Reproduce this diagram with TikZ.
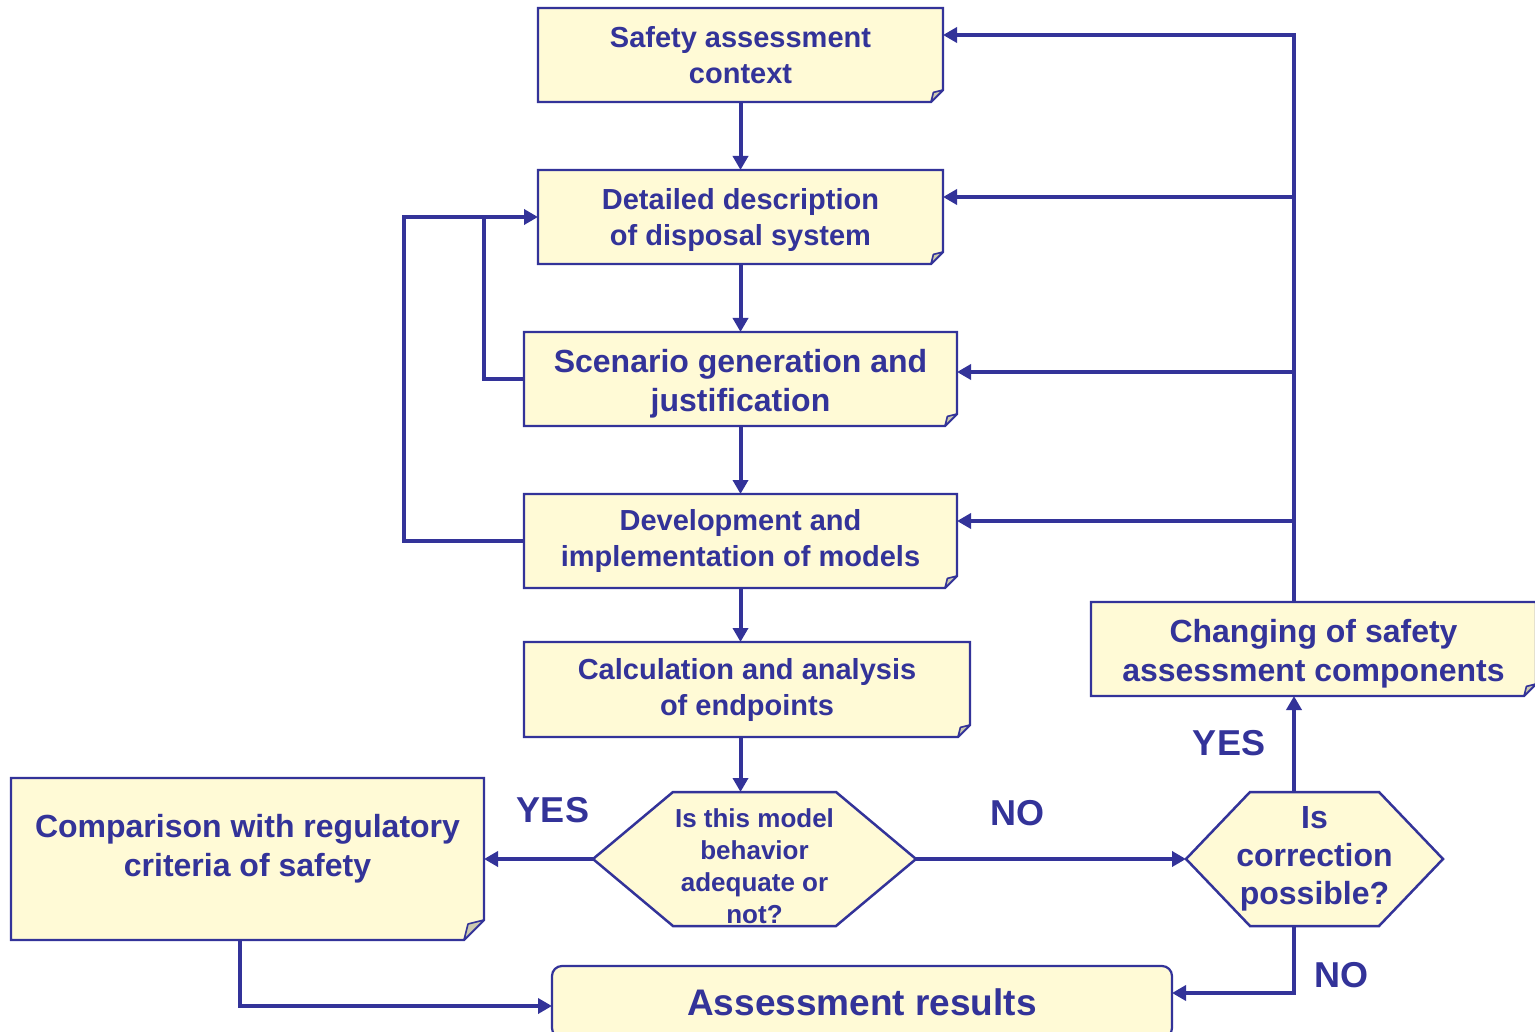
\documentclass[tikz,border=0pt]{standalone}
\usepackage{fontspec}
\setmainfont{Liberation Sans}
\usepackage{tikz}
\usetikzlibrary{arrows.meta,positioning,calc,backgrounds}
\definecolor{ink}{RGB}{51,51,153}
\definecolor{paper}{RGB}{255,250,214}
\definecolor{foldgray}{RGB}{204,202,176}

% box outline with a turned-down corner
\newcommand{\dogear}[2][12]{%
  \begin{scope}[on background layer]
    \filldraw[cardline] (#2.north west) -- (#2.north east) -- ($(#2.south east)+(0,-#1)$) -- ($(#2.south east)+(-#1,0)$) -- (#2.south west) -- cycle;
    \filldraw[foldline] ($(#2.south east)+(0,-#1)$) -- ($(#2.south east)+(-0.8*#1,-0.8*#1)$) -- ($(#2.south east)+(-#1,0)$) -- cycle;
  \end{scope}}
% hexagon outline for the decisions
\newcommand{\hexframe}[2][80]{%
  \begin{scope}[on background layer]
    \filldraw[cardline, line width=2.5pt] (#2.west) -- ($(#2.north west)+(#1,0)$) -- ($(#2.north east)+(-#1,0)$) -- (#2.east) -- ($(#2.south east)+(-#1,0)$) -- ($(#2.south west)+(#1,0)$) -- cycle;
  \end{scope}}

\begin{document}
\begin{tikzpicture}[
    x=1pt, y=-1pt,
    card/.style={rectangle, inner sep=0pt, outer sep=0pt, align=center, text=ink, font=\bfseries\fontsize{29}{36}\selectfont},
    cardline/.style={draw=ink, fill=paper, line width=2.2pt, line join=miter},
    foldline/.style={draw=ink, fill=foldgray, line width=1.6pt, line join=round},
    arrow/.style={-{Triangle[length=14pt,width=15pt]}, draw=ink, line width=4pt},
    line/.style={draw=ink, line width=4pt},
    answer/.style={text=ink, font=\bfseries\fontsize{36}{40}\selectfont},
]
\useasboundingbox (0,0) rectangle (1535,1032);

% === MAIN COLUMN ===
\node[card, minimum width=405pt, minimum height=94pt] (ctx) at (740.5,55) {Safety assessment\\context};
\node[card, minimum width=405pt, minimum height=94pt, below=68pt of ctx, text height=64pt] (detail) {Detailed description\\of disposal system};
\node[card, minimum width=433pt, minimum height=94pt, below=68pt of detail, font=\bfseries\fontsize{32}{39}\selectfont, text height=71pt] (scen) {Scenario generation and\\justification};
\node[card, minimum width=433pt, minimum height=94pt, below=68pt of scen] (dev) {Development and\\implementation of models};
\node[card, minimum width=446pt, minimum height=95pt, below=54pt of dev, xshift=6.5pt] (calc) {Calculation and analysis\\of endpoints};

% === DECISIONS ===
\node[card, minimum width=323pt, minimum height=134pt, font=\bfseries\fontsize{26}{32}\selectfont, text height=129pt] (hexa) at (754.5,859) {Is this model\\behavior\\adequate or\\not?};
\node[card, minimum width=257pt, minimum height=134pt, font=\bfseries\fontsize{32}{38}\selectfont] (hexb) at (1314.5,859) {Is\\correction\\possible?};

% === SIDE BOXES ===
\node[card, minimum width=473pt, minimum height=162pt, font=\bfseries\fontsize{32}{39}\selectfont, text depth=28pt] (cmp) at (247.5,859) {Comparison with regulatory\\criteria of safety};
\node[card, minimum width=445pt, minimum height=94pt, font=\bfseries\fontsize{32}{39}\selectfont, text height=71pt] (change) at (1313.5,649) {Changing of safety\\assessment components};
\node[card, draw=ink, fill=paper, line width=2.2pt, rounded corners=10pt, minimum width=620pt, minimum height=72pt, font=\bfseries\fontsize{37}{42}\selectfont] (res) at (862,1002) {Assessment results};

% === OUTLINES ===
\dogear{ctx}
\dogear{detail}
\dogear{scen}
\dogear{dev}
\dogear{calc}
\dogear[20]{cmp}
\dogear{change}
\hexframe[80]{hexa}
\hexframe[64]{hexb}

% === JOINTS ===
\coordinate (rtop) at (1294,35);
\coordinate (j1) at (1294,197);
\coordinate (j2) at (1294,372);
\coordinate (j3) at (1294,521);
\coordinate (l1) at (484,217);
\coordinate (l2) at (404,217);
\coordinate (r1) at (1294,993);
\coordinate (r2) at (240,1006);

% === ARROWS ===
\draw[arrow] (ctx) -- (detail);
\draw[arrow] (detail) -- (scen);
\draw[arrow] (scen) -- (dev);
\draw[arrow] (dev.south) -- (calc.north -| dev.south);
\draw[arrow] (calc.south -| ctx.south) -- (hexa.north -| ctx.south);

\draw[arrow] (hexa.west) -- (cmp.east);
\draw[arrow] (hexa.east) -- (hexb.west);
\draw[arrow] (hexb.north -| rtop) -- (change.south -| rtop);
\draw[arrow] (hexb.south -| r1) -- (r1) -- (res.east |- r1);
\draw[arrow] (cmp.south -| r2) -- (r2) -- (res.west |- r2);

\draw[arrow] (change.north -| rtop) -- (rtop) -- (ctx.east |- rtop);
\draw[arrow] (j1) -- (detail.east |- j1);
\draw[arrow] (j2) -- (scen.east |- j2);
\draw[arrow] (j3) -- (dev.east |- j3);

\draw[arrow] (scen.west) -| (l1) -- (detail.west);
\draw[line] (dev.west) -| (l2) -- (l1);

% === ANSWERS ===
\node[answer] (yes1) at (553,810) {YES};
\node[answer] (no1) at (1017,813) {NO};
\node[answer] (yes2) at (1229,743) {YES};
\node[answer] (no2) at (1341,975) {NO};

\end{tikzpicture}
\end{document}
